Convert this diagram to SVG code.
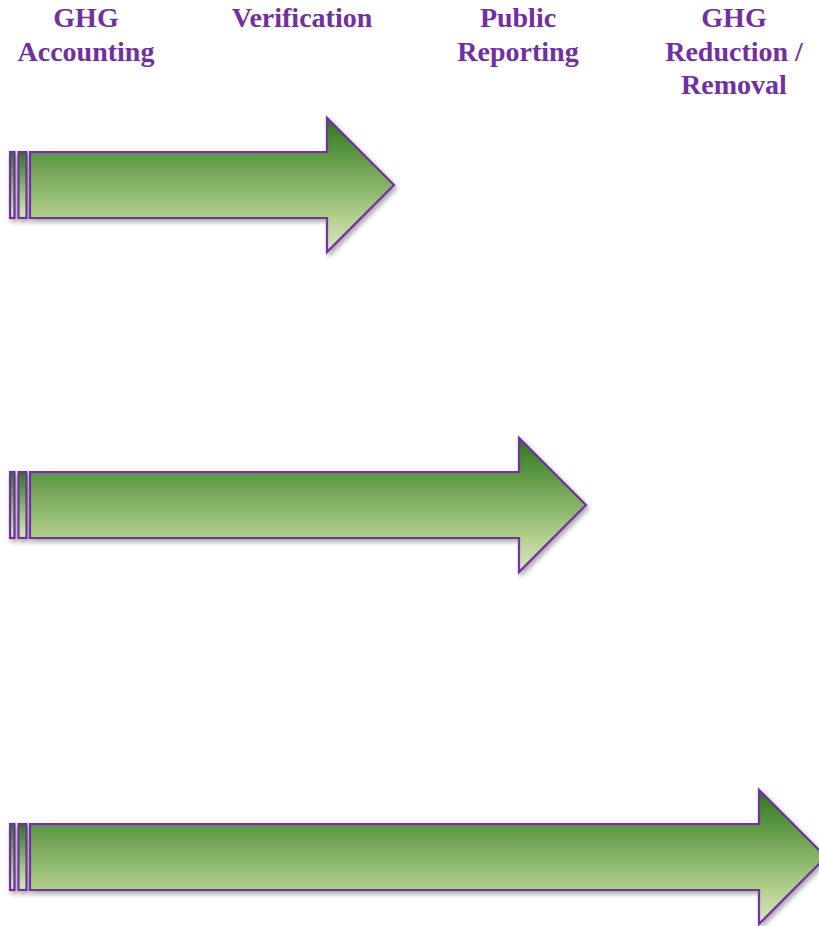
<svg xmlns="http://www.w3.org/2000/svg" width="819" height="926" viewBox="0 0 819 926">
<style>
.lbl{font-family:"Liberation Serif","Times New Roman",serif;font-weight:bold;font-size:28px;fill:#7030a0;text-anchor:middle}
.arr{stroke:#7030a0;stroke-width:2.2;stroke-linejoin:miter}
</style>
<defs>
<linearGradient id="g1" x1="0" y1="0" x2="0" y2="1">
<stop offset="0" stop-color="#2a7520"/>
<stop offset="0.25" stop-color="#5a953f"/>
<stop offset="0.75" stop-color="#b3d08f"/>
<stop offset="1" stop-color="#d6e9c2"/>
</linearGradient>
<filter id="sh" x="-5%" y="-10%" width="115%" height="130%">
<feDropShadow dx="2" dy="3" stdDeviation="2.5" flood-color="#000" flood-opacity="0.35"/>
</filter>
</defs>
<g id="labels">
<text class="lbl" x="86" y="27">GHG</text>
<text class="lbl" x="86" y="61">Accounting</text>
<text class="lbl" x="302" y="27">Verification</text>
<text class="lbl" x="518" y="27">Public</text>
<text class="lbl" x="518" y="61">Reporting</text>
<text class="lbl" x="734" y="27">GHG</text>
<text class="lbl" x="734" y="61">Reduction /</text>
<text class="lbl" x="734" y="94">Removal</text>
</g>
<g id="arrow1" filter="url(#sh)">
<rect class="arr" x="10" y="152" width="4.5" height="66" fill="url(#g1)"/>
<rect class="arr" x="18.5" y="152" width="8" height="66" fill="url(#g1)"/>
<path class="arr" fill="url(#g1)" d="M30,152 H327 V118 L394,185 L327,252 V218 H30 Z"/>
</g>
<g id="arrow2" filter="url(#sh)">
<rect class="arr" x="10" y="472" width="4.5" height="66" fill="url(#g1)"/>
<rect class="arr" x="18.5" y="472" width="8" height="66" fill="url(#g1)"/>
<path class="arr" fill="url(#g1)" d="M30,472 H519 V438 L586,505 L519,572 V538 H30 Z"/>
</g>
<g id="arrow3" filter="url(#sh)">
<rect class="arr" x="10" y="824" width="4.5" height="66" fill="url(#g1)"/>
<rect class="arr" x="18.5" y="824" width="8" height="66" fill="url(#g1)"/>
<path class="arr" fill="url(#g1)" d="M30,824 H759 V790 L826,857 L759,924 V890 H30 Z"/>
</g>
<g id="connectors"></g>
</svg>
